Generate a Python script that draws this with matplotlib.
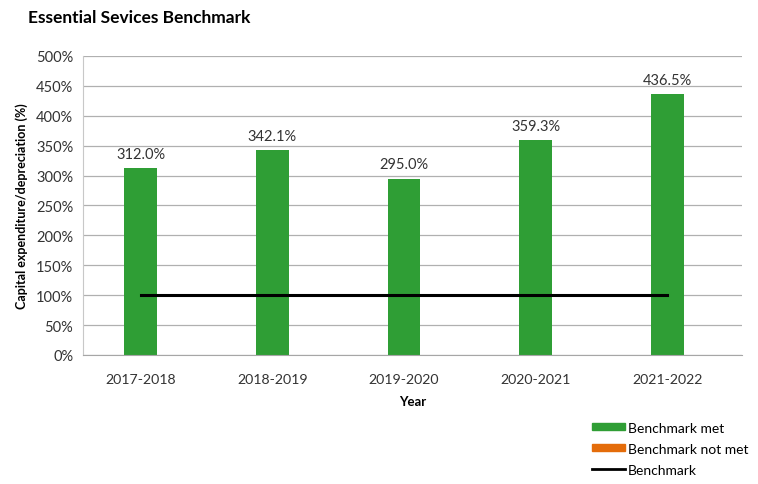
import numpy as np
import matplotlib.pyplot as plt
from matplotlib.patches import Patch
from matplotlib.lines import Line2D

years = ['2017-2018', '2018-2019', '2019-2020', '2020-2021', '2021-2022']
ratio = [312.0, 342.1, 295.0, 359.3, 436.5]
benchmark = [100, 100, 100, 100, 100]
yticks = [0, 50, 100, 150, 200, 250, 300, 350, 400, 450, 500]

green = '#2f9e35'
orange = '#e46c0a'
plt.rcParams['font.family'] = ['Lato', 'DejaVu Sans']

fig = plt.figure(figsize=(7.58, 4.85), dpi=100)
ax = fig.add_axes([0.1095, 0.266, 0.8695, 0.6165])

x = np.arange(len(years))
ax.bar(x, ratio, width=0.25, color=green, zorder=2)
ax.plot(x, benchmark, color='black', lw=2.2, zorder=3)

for xi, v in zip(x, ratio):
    ax.text(xi, v + 12, f'{v:.1f}%', ha='center', va='bottom',
            fontsize=10.5, color='#333333')

ax.set_xlim(-0.44, 4.57)
ax.set_ylim(0, 500)
ax.set_yticks(yticks)
ax.set_yticklabels([f'{t}%' for t in yticks])
ax.set_xticks(x)
ax.set_xticklabels(years)
ax.tick_params(axis='both', labelsize=10.2, colors='#333333', length=0, pad=13)
ax.tick_params(axis='y', labelsize=10.5, pad=7)
ax.yaxis.grid(True, color='#b0b0b0', lw=0.9, zorder=0)
for s in ['top', 'right']:
    ax.spines[s].set_visible(False)
ax.spines['left'].set_color('#c8c8c8')
ax.spines['bottom'].set_color('#a6a6a6')

ax.set_xlabel('Year', fontsize=9.5, fontweight='bold', labelpad=7)
ax.set_ylabel('Capital expenditure/depreciation (%)', fontsize=9,
              fontweight='bold', labelpad=6)
fig.text(0.037, 0.963, 'Essential Sevices Benchmark', fontsize=12.5,
         fontweight='bold', va='center', ha='left')

handles = [Patch(color=green), Patch(color=orange),
           Line2D([0], [0], color='black', lw=2)]
fig.legend(handles, ['Benchmark met', 'Benchmark not met', 'Benchmark'],
           loc='upper left', bbox_to_anchor=(0.772, 0.143), frameon=False,
           fontsize=10, handlelength=2.4, handleheight=0.45,
           handletextpad=0.2, labelspacing=0.65, borderpad=0)

fig.savefig('out.png', dpi=100)
